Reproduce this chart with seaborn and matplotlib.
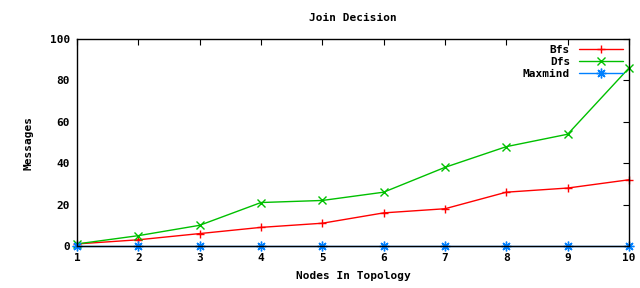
import pandas as pd
import matplotlib
matplotlib.use("Agg")
import matplotlib.pyplot as plt
import seaborn as sns

# ── DATA ──────────────────────────────────────────────────
nodes = [1, 2, 3, 4, 5, 6, 7, 8, 9, 10]
bfs = [1, 3, 6, 9, 11, 16, 18, 26, 28, 32]
dfs = [1, 5, 10, 21, 22, 26, 38, 48, 54, 86]
maxmind = [0, 0, 0, 0, 0, 0, 0, 0, 0, 0]
series = ["Bfs", "Dfs", "Maxmind"]

df = pd.DataFrame({
    "Nodes": nodes * 3,
    "Messages": bfs + dfs + maxmind,
    "Algo": ["Bfs"] * 10 + ["Dfs"] * 10 + ["Maxmind"] * 10,
})

# ── STYLE ─────────────────────────────────────────────────
sns.set_theme(style="white")
plt.rcParams["font.family"] = ["DejaVu Sans Mono"]
plt.rcParams["font.weight"] = "bold"
plt.rcParams["text.color"] = "black"
plt.rcParams["axes.labelcolor"] = "black"

fig = plt.figure(figsize=(6.4, 2.88), dpi=100)
ax = fig.add_axes([77 / 640, 1 - 246 / 288, 552 / 640, 207 / 288])

palette = {"Bfs": "#ff0000", "Dfs": "#00c000", "Maxmind": "#0080ff"}
markers = {"Bfs": "+", "Dfs": "x", "Maxmind": (8, 2, 0)}
sns.lineplot(data=df, x="Nodes", y="Messages", hue="Algo", style="Algo",
             palette=palette, markers=markers, dashes=False, ax=ax,
             linewidth=1, markersize=5.5, markeredgewidth=1, clip_on=False,
             zorder=3)
for ln in ax.lines:
    ln.set_markeredgecolor(ln.get_color())
    if ln.get_color() == "#0080ff":
        ln.set_markersize(7)

ax.set_xlim(1, 10)
ax.set_ylim(0, 100)
ax.set_xticks(nodes)
ax.set_yticks(range(0, 101, 20))
ax.tick_params(direction="in", length=4, width=0.8, top=True, right=True,
               labelsize=8, colors="black", pad=5)
for lab in ax.get_xticklabels() + ax.get_yticklabels():
    lab.set_fontweight("bold")
for sp in ax.spines.values():
    sp.set_color("black")
    sp.set_linewidth(1)
    sp.set_zorder(4)

ax.set_title("Join Decision", fontsize=8, fontweight="bold", pad=13,
             color="black")
ax.set_xlabel("Nodes In Topology", fontsize=8, fontweight="bold", labelpad=6)
ax.set_ylabel("Messages", fontsize=8, fontweight="bold", labelpad=12)

leg = ax.legend(loc="upper right", frameon=False, markerfirst=False,
                fontsize=8, handlelength=4, borderaxespad=0.1,
                labelspacing=0.2, title=None)
for t in leg.get_texts():
    t.set_fontweight("bold")
    t.set_color("black")
for h in leg.legend_handles:
    h.set_markeredgecolor(h.get_color())
    if h.get_color() == "#0080ff":
        h.set_markersize(7)

fig.savefig("out.png", dpi=100)
